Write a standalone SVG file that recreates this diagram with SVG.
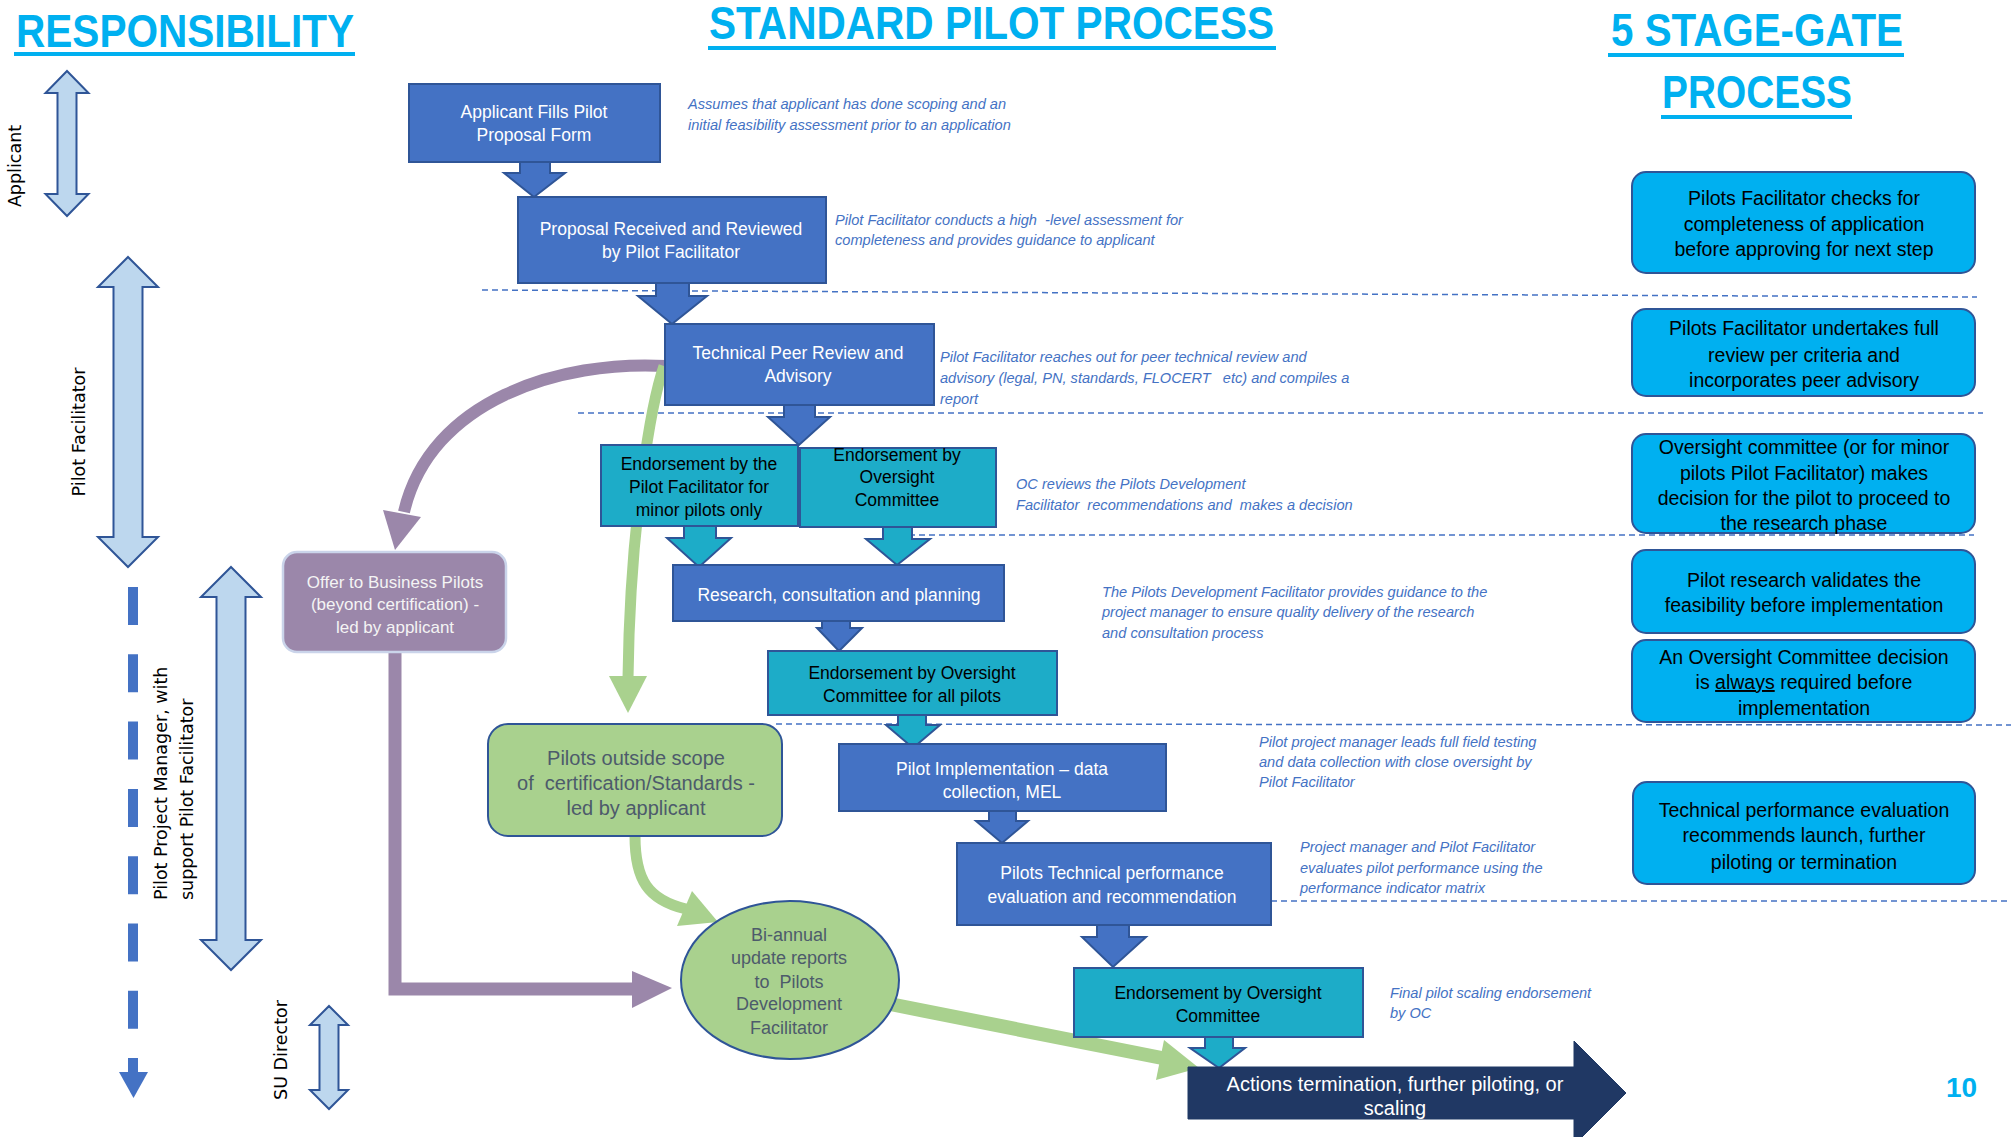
<svg xmlns="http://www.w3.org/2000/svg" width="2011" height="1137" viewBox="0 0 2011 1137">
<style>
.title{font-family:"Liberation Sans",Arial,sans-serif;font-weight:bold;font-size:47px;fill:#00B0F0}
.ul{fill:#00B0F0}
.box{fill:#4472C4;stroke:#2F5597;stroke-width:2}
.teal{fill:#1DACC8;stroke:#2F5597;stroke-width:2}
.gate{fill:#00B0F0;stroke:#2F5597;stroke-width:2}
.resp{fill:#BDD7EE;stroke:#2F5597;stroke-width:2}
.sep{fill:none;stroke:#4472C4;stroke-width:1.5;stroke-dasharray:6 4}
.t{font-family:"Liberation Sans",Arial,sans-serif;text-anchor:middle}
.w{fill:#FFFFFF;font-size:17.5px}
.k{fill:#000000;font-size:17.5px}
.g{fill:#000000;font-size:19.5px}
.gr{fill:#4D5B6B}
.note{font-family:"Liberation Sans",Arial,sans-serif;font-style:italic;font-size:14.6px;fill:#4472C4;white-space:pre}
.role{font-family:"DejaVu Sans",Verdana,sans-serif;font-size:17.5px;fill:#000000}
.purple{fill:none;stroke:#9B87AA;stroke-width:12}
.green{fill:none;stroke:#A9D18E;stroke-width:11}
</style>

<!-- titles -->
<g id="titles">
<text class="title" x="16" y="47" textLength="338" lengthAdjust="spacingAndGlyphs">RESPONSIBILITY</text>
<rect class="ul" x="14" y="52" width="341" height="4"/>
<text class="title" x="709" y="39" textLength="565" lengthAdjust="spacingAndGlyphs">STANDARD PILOT PROCESS</text>
<rect class="ul" x="708" y="46" width="568" height="4"/>
<text class="title" x="1611" y="46" textLength="292" lengthAdjust="spacingAndGlyphs">5 STAGE-GATE</text>
<rect class="ul" x="1608" y="53" width="296" height="4"/>
<text class="title" x="1662" y="108" textLength="190" lengthAdjust="spacingAndGlyphs">PROCESS</text>
<rect class="ul" x="1661" y="115" width="191" height="4"/>
</g>

<!-- responsibility column -->
<g id="resp-applicant">
<path class="resp" d="M67,71 L88.5,93 L76.5,93 L76.5,194 L88.5,194 L67,216 L45.5,194 L57.5,194 L57.5,93 L45.5,93 Z"/>
<text class="role" text-anchor="middle" transform="translate(21,166) rotate(-90)">Applicant</text>
</g>
<g id="resp-facilitator">
<path class="resp" d="M128,257 L158,287 L142.5,287 L142.5,537 L158,537 L128,567 L98,537 L113.5,537 L113.5,287 L98,287 Z"/>
<text class="role" text-anchor="middle" transform="translate(85,432) rotate(-90)">Pilot Facilitator</text>
</g>
<g id="resp-dashed">
<line x1="133" y1="587" x2="133" y2="1072" stroke="#4472C4" stroke-width="10" stroke-dasharray="38 29.3"/>
<polygon points="119,1072 148,1072 133.5,1098" fill="#4472C4"/>
</g>
<g id="resp-pm">
<path class="resp" d="M231,567 L261,597 L245.5,597 L245.5,940 L261,940 L231,970 L201,940 L216.5,940 L216.5,597 L201,597 Z"/>
<text class="role" transform="translate(167,900) rotate(-90)">Pilot Project Manager, with</text>
<text class="role" transform="translate(193,900) rotate(-90)">support Pilot Facilitator</text>
</g>
<g id="resp-su">
<path class="resp" d="M329,1006 L348,1025 L338.5,1025 L338.5,1090 L348,1090 L329,1109 L310,1090 L319.5,1090 L319.5,1025 L310,1025 Z"/>
<text class="role" text-anchor="middle" transform="translate(287,1050) rotate(-90)">SU Director</text>
</g>

<!-- separators -->
<g id="separators">
<line class="sep" x1="482" y1="290" x2="1977" y2="297"/>
<line class="sep" x1="578" y1="413" x2="1983" y2="413"/>
<line class="sep" x1="899" y1="535" x2="1974" y2="535"/>
<line class="sep" x1="776" y1="724" x2="2011" y2="725"/>
<line class="sep" x1="1271" y1="901" x2="2011" y2="901"/>
</g>

<!-- connectors -->
<g id="connectors">
<path class="purple" d="M666,366 C560,360 430,400 404,512"/>
<polygon points="383,510 421,517 395,550" fill="#9B87AA"/>
<path d="M395,652 L395,989 L634,989" fill="none" stroke="#9B87AA" stroke-width="13"/>
<polygon points="632,971 632,1008 672,988" fill="#9B87AA"/>
<path class="green" d="M664,366 C652,400 630,520 628,678"/>
<polygon points="609,676 647,676 628,713" fill="#A9D18E"/>
<path class="green" d="M635,836 C635,880 648,900 686,909"/>
<polygon points="692,891 718,922 677,926" fill="#A9D18E"/>
<line x1="890" y1="1004" x2="1162" y2="1058" stroke="#A9D18E" stroke-width="14"/>
<polygon points="1164,1040 1199,1068 1156,1080" fill="#A9D18E"/>
<path class="box" d="M520,160 L550,160 L550,173 L565,173 L534,197 L504,173 L520,173 Z"/>
<path class="box" d="M656,281 L689,281 L689,296 L707,296 L672,324 L638,296 L656,296 Z"/>
<path class="box" d="M784,402 L815,402 L815,417 L830,417 L799,445 L768,417 L784,417 Z"/>
<path class="teal" d="M684,524 L716,524 L716,538 L731,538 L699,567 L667,538 L684,538 Z"/>
<path class="teal" d="M883,525 L912,525 L912,539 L930,539 L897,565 L866,539 L883,539 Z"/>
<path class="box" d="M822,619 L850,619 L850,628 L862,628 L839,651 L817,628 L822,628 Z"/>
<path class="teal" d="M898,712 L926,712 L926,725 L940,725 L913,748 L886,725 L898,725 Z"/>
<path class="box" d="M989,809 L1016,809 L1016,821 L1028,821 L1002,843 L976,821 L989,821 Z"/>
<path class="box" d="M1097,923 L1129,923 L1129,937 L1146,937 L1113,967 L1082,937 L1097,937 Z"/>
<path class="teal" d="M1205,1035 L1233,1035 L1233,1048 L1245,1048 L1219,1068 L1190,1048 L1205,1048 Z"/>
</g>

<!-- process nodes -->
<g id="n-applicant">
<rect class="box" x="409" y="84" width="251" height="78"/>
<text class="t w" x="534" y="118">Applicant Fills Pilot</text>
<text class="t w" x="534" y="141">Proposal Form</text>
</g>
<g id="n-proposal">
<rect class="box" x="518" y="197" width="308" height="86"/>
<text class="t w" x="671" y="235">Proposal Received and Reviewed</text>
<text class="t w" x="671" y="258">by Pilot Facilitator</text>
</g>
<g id="n-technical">
<rect class="box" x="665" y="324" width="269" height="81"/>
<text class="t w" x="798" y="359">Technical Peer Review and</text>
<text class="t w" x="798" y="382">Advisory</text>
</g>
<g id="n-endorse-pf">
<rect class="teal" x="601" y="445" width="197" height="81"/>
<text class="t k" x="699" y="470">Endorsement by the</text>
<text class="t k" x="699" y="493">Pilot Facilitator for</text>
<text class="t k" x="699" y="516">minor pilots only</text>
</g>
<g id="n-endorse-oc">
<rect class="teal" x="800" y="448" width="196" height="79"/>
<text class="t k" x="897" y="461">Endorsement by</text>
<text class="t k" x="897" y="483">Oversight</text>
<text class="t k" x="897" y="506">Committee</text>
</g>
<g id="n-research">
<rect class="box" x="673" y="565" width="331" height="56"/>
<text class="t w" x="839" y="601">Research, consultation and planning</text>
</g>
<g id="n-endorse-all">
<rect class="teal" x="768" y="651" width="289" height="64"/>
<text class="t k" x="912" y="679">Endorsement by Oversight</text>
<text class="t k" x="912" y="702">Committee for all pilots</text>
</g>
<g id="n-implementation">
<rect class="box" x="839" y="744" width="327" height="67"/>
<text class="t w" x="1002" y="775">Pilot Implementation – data</text>
<text class="t w" x="1002" y="798">collection, MEL</text>
</g>
<g id="n-evaluation">
<rect class="box" x="957" y="843" width="314" height="82"/>
<text class="t w" x="1112" y="879">Pilots Technical performance</text>
<text class="t w" x="1112" y="903">evaluation and recommendation</text>
</g>
<g id="n-endorse-final">
<rect class="teal" x="1074" y="968" width="289" height="69"/>
<text class="t k" x="1218" y="999">Endorsement by Oversight</text>
<text class="t k" x="1218" y="1022">Committee</text>
</g>
<g id="n-actions">
<polygon points="1188,1067 1574,1067 1574,1041 1626,1093 1574,1145 1574,1119 1188,1119" fill="#203864" stroke="#1F3864" stroke-width="1"/>
<text class="t" x="1395" y="1091" fill="#FFFFFF" font-size="20">Actions termination, further piloting, or</text>
<text class="t" x="1395" y="1115" fill="#FFFFFF" font-size="20">scaling</text>
</g>
<g id="n-offer">
<rect x="283" y="552" width="223" height="100" rx="14" fill="#9B87AA" stroke="#CAD4EA" stroke-width="2.5"/>
<text class="t" x="395" y="588" fill="#F4F4F4" font-size="17px">Offer to Business Pilots</text>
<text class="t" x="395" y="610" fill="#F4F4F4" font-size="17px">(beyond certification) -</text>
<text class="t" x="395" y="633" fill="#F4F4F4" font-size="17px">led by applicant</text>
</g>
<g id="n-outside">
<rect x="488" y="724" width="294" height="112" rx="20" fill="#A9D18E" stroke="#2F5597" stroke-width="2"/>
<text class="t gr" x="636" y="765" font-size="20px">Pilots outside scope</text>
<text class="t gr" x="636" y="790" font-size="20px" xml:space="preserve">of  certification/Standards -</text>
<text class="t gr" x="636" y="815" font-size="20px">led by applicant</text>
</g>
<g id="n-biannual">
<ellipse cx="790" cy="980" rx="109" ry="79" fill="#A9D18E" stroke="#2F5597" stroke-width="2"/>
<text class="t gr" x="789" y="941" font-size="18px">Bi-annual</text>
<text class="t gr" x="789" y="964" font-size="18px">update reports</text>
<text class="t gr" x="789" y="988" font-size="18px" xml:space="preserve">to  Pilots</text>
<text class="t gr" x="789" y="1010" font-size="18px">Development</text>
<text class="t gr" x="789" y="1034" font-size="18px">Facilitator</text>
</g>

<!-- notes -->
<g id="notes">
<text class="note" x="688" y="109">Assumes that applicant has done scoping and an</text>
<text class="note" x="688" y="130">initial feasibility assessment prior to an application</text>
<text class="note" x="835" y="225" xml:space="preserve">Pilot Facilitator conducts a high  -level assessment for</text>
<text class="note" x="835" y="245">completeness and provides guidance to applicant</text>
<text class="note" x="940" y="362">Pilot Facilitator reaches out for peer technical review and</text>
<text class="note" x="940" y="383" xml:space="preserve">advisory (legal, PN, standards, FLOCERT   etc) and compiles a</text>
<text class="note" x="940" y="404">report</text>
<text class="note" x="1016" y="489">OC reviews the Pilots Development</text>
<text class="note" x="1016" y="510" xml:space="preserve">Facilitator  recommendations and  makes a decision</text>
<text class="note" x="1102" y="597">The Pilots Development Facilitator provides guidance to the</text>
<text class="note" x="1102" y="617">project manager to ensure quality delivery of the research</text>
<text class="note" x="1102" y="638">and consultation process</text>
<text class="note" x="1259" y="747">Pilot project manager leads full field testing</text>
<text class="note" x="1259" y="767">and data collection with close oversight by</text>
<text class="note" x="1259" y="787">Pilot Facilitator</text>
<text class="note" x="1300" y="852">Project manager and Pilot Facilitator</text>
<text class="note" x="1300" y="873">evaluates pilot performance using the</text>
<text class="note" x="1300" y="893">performance indicator matrix</text>
<text class="note" x="1390" y="998">Final pilot scaling endorsement</text>
<text class="note" x="1390" y="1018">by OC</text>
</g>

<!-- stage gates -->
<g id="gate-1">
<rect class="gate" x="1632" y="172" width="343" height="101" rx="14"/>
<text class="t g" x="1804" y="205">Pilots Facilitator checks for</text>
<text class="t g" x="1804" y="231">completeness of application</text>
<text class="t g" x="1804" y="256">before approving for next step</text>
</g>
<g id="gate-2">
<rect class="gate" x="1632" y="309" width="343" height="87" rx="14"/>
<text class="t g" x="1804" y="335">Pilots Facilitator undertakes full</text>
<text class="t g" x="1804" y="362">review per criteria and</text>
<text class="t g" x="1804" y="387">incorporates peer advisory</text>
</g>
<g id="gate-3">
<rect class="gate" x="1632" y="434" width="343" height="99" rx="14"/>
<text class="t g" x="1804" y="454">Oversight committee (or for minor</text>
<text class="t g" x="1804" y="480">pilots Pilot Facilitator) makes</text>
<text class="t g" x="1804" y="505">decision for the pilot to proceed to</text>
<text class="t g" x="1804" y="530">the research phase</text>
</g>
<g id="gate-4">
<rect class="gate" x="1632" y="550" width="343" height="83" rx="14"/>
<text class="t g" x="1804" y="587">Pilot research validates the</text>
<text class="t g" x="1804" y="612">feasibility before implementation</text>
</g>
<g id="gate-5">
<rect class="gate" x="1632" y="640" width="343" height="82" rx="14"/>
<text class="t g" x="1804" y="664">An Oversight Committee decision</text>
<text class="t g" x="1804" y="689">is <tspan text-decoration="underline">always</tspan> required before</text>
<text class="t g" x="1804" y="715">implementation</text>
</g>
<g id="gate-6">
<rect class="gate" x="1633" y="782" width="342" height="102" rx="14"/>
<text class="t g" x="1804" y="817">Technical performance evaluation</text>
<text class="t g" x="1804" y="842">recommends launch, further</text>
<text class="t g" x="1804" y="869">piloting or termination</text>
</g>

<text x="1946" y="1097" font-family="Liberation Sans,Arial,sans-serif" font-weight="bold" font-size="28" fill="#00B0F0">10</text>
</svg>
